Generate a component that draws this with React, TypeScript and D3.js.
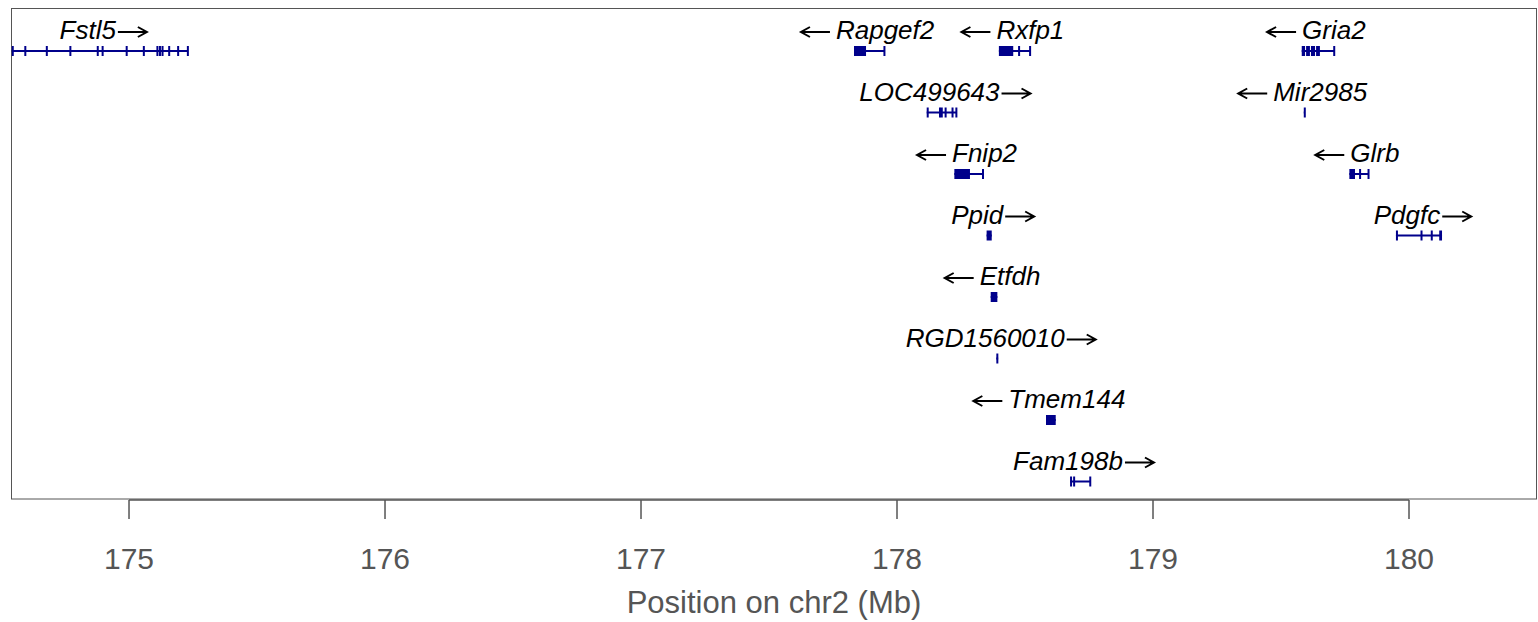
import React from "react";
import * as d3 from "d3";

const geneNames = ["Fstl5", "Rapgef2", "Rxfp1", "Gria2", "LOC499643", "Mir2985", "Fnip2", "Glrb", "Ppid", "Pdgfc", "Etfdh", "RGD1560010", "Tmem144", "Fam198b"];
const geneStrands = ["+", "-", "-", "-", "+", "-", "-", "-", "+", "+", "-", "+", "-", "+"];
const geneRows = [0, 0, 0, 0, 1, 1, 2, 2, 3, 3, 4, 5, 6, 7];
const geneStarts = [174.542, 177.832, 178.398, 179.581, 178.116, 179.589, 178.224, 179.767, 178.350, 179.949, 178.366, 178.388, 178.582, 178.676];
const geneEnds = [175.229, 177.950, 178.519, 179.707, 178.231, 179.592, 178.335, 179.841, 178.370, 180.129, 178.392, 178.395, 178.620, 178.754];
const geneExons: [number, number][][] = [
  [[174.542, 174.545], [174.591, 174.594], [174.675, 174.678], [174.767, 174.770], [174.874, 174.877], [174.893, 174.896], [174.987, 174.990], [175.054, 175.057], [175.107, 175.110], [175.117, 175.120], [175.127, 175.130], [175.153, 175.156], [175.188, 175.191], [175.226, 175.229]],
  [[177.832, 177.879], [177.947, 177.950]],
  [[178.398, 178.454], [178.473, 178.476], [178.516, 178.519]],
  [[179.581, 179.594], [179.598, 179.613], [179.617, 179.633], [179.637, 179.652], [179.704, 179.707]],
  [[178.116, 178.119], [178.164, 178.167], [178.171, 178.174], [178.186, 178.189], [178.213, 178.216], [178.228, 178.231]],
  [[179.589, 179.592]],
  [[178.224, 178.285], [178.332, 178.335]],
  [[179.767, 179.789], [179.805, 179.808], [179.838, 179.841]],
  [[178.350, 178.370]],
  [[179.949, 179.952], [180.045, 180.048], [180.085, 180.088], [180.118, 180.129]],
  [[178.366, 178.392]],
  [[178.388, 178.395]],
  [[178.582, 178.620]],
  [[178.676, 178.679], [178.688, 178.691], [178.751, 178.754]],
];
const xTicks = [175, 176, 177, 178, 179, 180];
const xDomain = [174.539, 180.5];
const rowCount = 8;
const xTitle = "Position on chr2 (Mb)";

const W = 1538;
const H = 622;
const plotLeft = 11;
const plotRight = 1537;
const plotTop = 8;
const plotBottom = 498.5;
const geneColor = "#00008B";
const axisColor = "#555555";
const FONT = "'Liberation Sans', Arial, sans-serif";
const LABEL_SIZE = 26;
const ARROW_W = 29;

let measureCtx: CanvasRenderingContext2D | null = null;
function measureName(s: string): number {
  if (!measureCtx) {
    const c = document.createElement("canvas");
    measureCtx = c.getContext("2d");
  }
  if (!measureCtx) return s.length * LABEL_SIZE * 0.55;
  measureCtx.font = `italic ${LABEL_SIZE}px 'Liberation Sans', Arial, sans-serif`;
  return measureCtx.measureText(s).width;
}

function arrowPath(x0: number, yA: number, right: boolean): string {
  const x1 = x0 + ARROW_W;
  if (right) {
    return `M${x0},${yA}L${x1},${yA}M${x1 - 9},${yA - 5}L${x1},${yA}L${x1 - 9},${yA + 5}`;
  }
  return `M${x1},${yA}L${x0},${yA}M${x0 + 9},${yA - 5}L${x0},${yA}L${x0 + 9},${yA + 5}`;
}

export default function App() {
  const x = d3.scaleLinear().domain(xDomain).range([plotLeft, plotRight]);
  const y = d3.scaleLinear().domain([0, rowCount - 1]).range([51, 481.5]);
  const exonH = 10;
  const axisY = 500;

  return (
    <svg width={W} height={H} style={{ position: "absolute", left: 0, top: 0, background: "#fff" }}>
      <rect x={plotLeft + 0.5} y={plotTop + 0.5} width={plotRight - plotLeft - 1} height={plotBottom - plotTop} fill="none" stroke={axisColor} strokeWidth={1} />
      {geneNames.map((name, i) => {
        const yc = y(geneRows[i]);
        const x0 = x(geneStarts[i]);
        const x1 = x(geneEnds[i]);
        const mid = (x0 + x1) / 2;
        const plus = geneStrands[i] === "+";
        const nameW = measureName(name);
        const gap = plus ? 2 : 6;
        const total = nameW + gap + ARROW_W;
        const left = mid + (plus ? 3.5 : -1.5) - total / 2;
        const baseline = yc - 12;
        const yA = baseline - 7;
        const nameX = plus ? left : left + ARROW_W + gap;
        const arrowX = plus ? left + nameW + gap : left;
        return (
          <g key={name}>
            <line x1={x0} x2={x1} y1={yc} y2={yc} stroke={geneColor} strokeWidth={2} />
            {geneExons[i].map((e, j) => {
              const ex0 = x(e[0]);
              const ex1 = x(e[1]);
              const w = Math.max(2, ex1 - ex0);
              return <rect key={j} x={ex0} y={yc - exonH / 2} width={w} height={exonH} fill={geneColor} />;
            })}
            <text x={nameX} y={baseline} fontFamily={FONT} fontSize={LABEL_SIZE} fontStyle="italic" fill="#000">
              {name}
            </text>
            <path d={arrowPath(arrowX, yA, plus)} fill="none" stroke="#000" strokeWidth={2} />
          </g>
        );
      })}
      <line x1={x(xTicks[0])} x2={x(xTicks[xTicks.length - 1])} y1={axisY} y2={axisY} stroke={axisColor} strokeWidth={1.5} />
      {xTicks.map((t) => (
        <g key={t}>
          <line x1={x(t)} x2={x(t)} y1={axisY} y2={axisY + 19} stroke={axisColor} strokeWidth={1.5} />
          <text x={x(t)} y={569} textAnchor="middle" fontFamily={FONT} fontSize={30} fill={axisColor}>
            {t}
          </text>
        </g>
      ))}
      <text x={(plotLeft + plotRight) / 2} y={613} textAnchor="middle" fontFamily={FONT} fontSize={31} fill={axisColor}>
        {xTitle}
      </text>
    </svg>
  );
}
